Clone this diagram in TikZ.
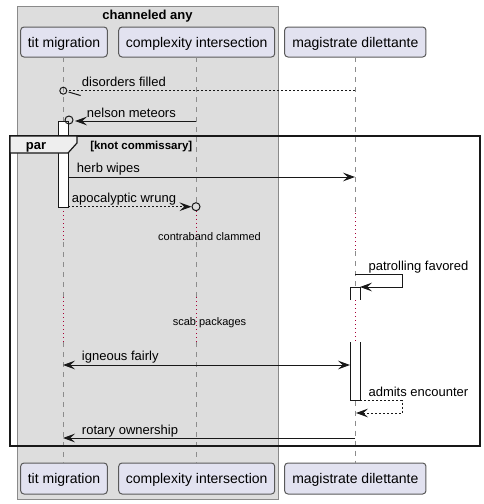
\documentclass[tikz,border=0pt]{standalone}
\usepackage{fontspec}
\setmainfont{Liberation Sans}
\usetikzlibrary{arrows.meta}
\definecolor{grpfill}{HTML}{DDDDDD}
\definecolor{grpline}{HTML}{8A8A8A}
\definecolor{partfill}{HTML}{E2E2F0}
\definecolor{partline}{HTML}{5A5A5A}
\definecolor{lifecol}{HTML}{8C8C8C}
\definecolor{delaycol}{HTML}{A80036}
\definecolor{msgcol}{HTML}{181818}
\definecolor{tabfill}{HTML}{EEEEEE}
\tikzset{
  >={Stealth[length=9pt,width=6.5pt,inset=3.5pt]},
  part/.style={draw=partline, fill=partfill, rounded corners=2.5pt, line width=0.75pt,
    minimum height=22.5pt, inner sep=0pt, text height=8.5pt, text depth=1pt,
    font=\fontsize{10.5pt}{12pt}\selectfont},
  life/.style={draw=lifecol, dash pattern=on 3.75pt off 3.75pt, line width=0.75pt},
  dly/.style={draw=delaycol, dash pattern=on 0.75pt off 2.25pt, line width=0.75pt},
  msgline/.style={draw=msgcol, line width=0.75pt},
  retline/.style={msgline, dash pattern=on 1.5pt off 1.5pt},
  act/.style={draw=msgcol, fill=white, line width=0.75pt},
  circ/.style={circle, draw=msgcol, line width=0.75pt, inner sep=0pt},
  lbl/.style={inner sep=0pt, anchor=base west, font=\fontsize{9.75pt}{11pt}\selectfont},
  dtxt/.style={inner sep=0pt, anchor=base, font=\fontsize{8.25pt}{10pt}\selectfont},
}
\begin{document}
\begin{tikzpicture}[x=0.75pt,y=-0.75pt]
\useasboundingbox (0,0) rectangle (484,504);
% group box
\path[draw=grpline, fill=grpfill, line width=0.75pt] (17,6) rectangle (278,499);
\node[inner sep=0pt, anchor=base, font=\bfseries\fontsize{9.75pt}{11pt}\selectfont] (gtitle) at (147.5,19.5) {channeled any};

% participants
\node[part, minimum width=65pt] (tA) at (64,42) {tit migration};
\node[part, minimum width=117pt] (tB) at (196.7,42) {complexity intersection};
\node[part, minimum width=106pt] (tC) at (355.3,42) {magistrate dilettante};
\node[part, minimum width=65pt, minimum height=23.25pt] (bA) at (64,478.5) {tit migration};
\node[part, minimum width=117pt, minimum height=23.25pt] (bB) at (196.7,478.5) {complexity intersection};
\node[part, minimum width=106pt, minimum height=23.25pt] (bC) at (355.3,478.5) {magistrate dilettante};

% lifeline coordinates
\coordinate (a0) at (63,57);   \coordinate (a1) at (63,121);
\coordinate (a2) at (63,207);  \coordinate (a3) at (63,242);
\coordinate (a4) at (63,297);  \coordinate (a5) at (63,342);
\coordinate (a6) at (63,463);
\coordinate (b0) at (196,57);  \coordinate (b1) at (196,202.7);
\coordinate (b2) at (196,210.7); \coordinate (b3) at (196,242);
\coordinate (b4) at (196,297); \coordinate (b5) at (196,342);
\coordinate (b6) at (196,463);
\coordinate (c0) at (355,57);  \coordinate (c1) at (355,213);
\coordinate (c2) at (355,251); \coordinate (c3) at (355,287);
\coordinate (c4) at (355,300); \coordinate (c5) at (355,342);
\coordinate (c6) at (355,400.5); \coordinate (c7) at (355,463);

\draw[life] (a0) -- (a1);  \draw[dly] (a2) -- (a3);  \draw[life] (a3) -- (a4);
\draw[dly] (a4) -- (a5);   \draw[life] (a5) -- (a6);
\draw[life] (b0) -- (b1);  \draw[dly] (b2) -- (b3);  \draw[life] (b3) -- (b4);
\draw[dly] (b4) -- (b5);   \draw[life] (b5) -- (b6);
\draw[life] (c0) -- (c1);  \draw[dly] (c1) -- (c2);  \draw[life] (c2) -- (c3);
\draw[dly] (c4) -- (c5);   \draw[life] (c6) -- (c7);

% activations
\draw[act] (58,121) rectangle (68,207);
\path[fill=white] (350,287) rectangle (360,300);
\draw[msgline] (350,300) -- (350,287) -- (360,287) -- (360,300);
\path[fill=white] (350,342) rectangle (360,400.5);
\draw[msgline] (350,342) -- (350,400.5) -- (360,400.5) -- (360,342);

% messages
% 1 disorders filled
\node[circ, minimum size=5.25pt] (o1) at (63.3,90.7) {};
\coordinate (m1s) at (355,90.7);
\draw[retline] (m1s) -- (o1.east);
\draw[msgline] ([xshift=1pt,yshift=-1pt]o1.east) -- ++(12,3.5);
\node[lbl] (l1) at (81.7,86) {disorders filled};
% 2 nelson meteors
\node[circ, minimum size=6pt] (o2) at (69,120) {};
\coordinate (m2s) at (196,121);
\coordinate (m2e) at (75,121);
\draw[msgline,->] (m2s) -- (m2e);
\node[lbl] (l2) at (86.7,117) {nelson meteors};
% 3 herb wipes
\coordinate (m3s) at (68,177);
\coordinate (m3e) at (355,177);
\draw[msgline,->] (m3s) -- (m3e);
\node[lbl] (l3) at (76.7,172.7) {herb wipes};
% 4 apocalyptic wrung
\node[circ, minimum size=6pt] (o4) at (196,206.7) {};
\coordinate (m4s) at (68,206.7);
\draw[retline,->] (m4s) -- (o4.west);
\node[lbl] (l4) at (71.7,202.5) {apocalyptic wrung};
% delay 1
\node[dtxt] (d1) at (209.5,240.7) {contraband clammed};
% 6 patrolling favored
\coordinate (m6a) at (402,274);
\coordinate (m6b) at (402,287);
\coordinate (m6e) at (360,287);
\draw[msgline,->] (c3|-m6a) -- (m6a) -- (m6b) -- (m6e);
\node[lbl] (l6) at (368.3,270) {patrolling favored};
% delay 2
\node[dtxt] (d2) at (209.5,325.5) {scab packages};
% 8 igneous fairly
\coordinate (m8s) at (63,365);
\coordinate (m8e) at (350,365);
\draw[msgline,<->] (m8s) -- (m8e);
\node[lbl] (l8) at (81.7,360.5) {igneous fairly};
% 9 admits encounter
\coordinate (m9s) at (360,400.5);
\coordinate (m9a) at (402,400.5);
\coordinate (m9b) at (402,413);
\coordinate (m9e) at (356,413);
\draw[retline,->] (m9s) -- (m9a) -- (m9b) -- (m9e);
\node[lbl] (l9) at (368.3,396) {admits encounter};
% 10 rotary ownership
\coordinate (m10s) at (355,438);
\coordinate (m10e) at (63,438);
\draw[msgline,->] (m10s) -- (m10e);
\node[lbl] (l10) at (81.7,434) {rotary ownership};

% par frame
\draw[draw=msgcol, line width=1.6pt] (10,136) rectangle (480,446);
\draw[draw=msgcol, fill=tabfill, line width=0.9pt] (10,136) -- (77,136) -- (77,143) -- (68,153) -- (10,153) -- cycle;
\node[inner sep=0pt, anchor=base, font=\bfseries\fontsize{9.75pt}{11pt}\selectfont] (ptab) at (36,149) {par};
\node[inner sep=0pt, anchor=base west, font=\bfseries\fontsize{8.6pt}{10pt}\selectfont] (pcond) at (90,149) {[knot commissary]};
\end{tikzpicture}
\end{document}
